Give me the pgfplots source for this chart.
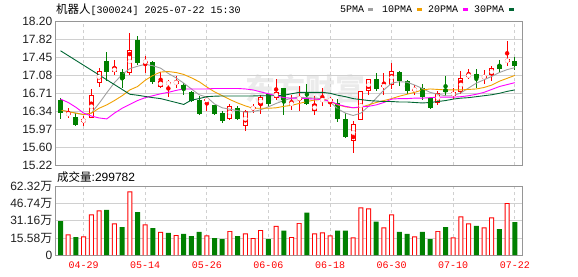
\documentclass[border=0pt]{standalone}
\usepackage{pgfplots}
\pgfplotsset{compat=1.18}
\usepackage{pgfplotstable}
\usepackage{fontspec}
\setmainfont{Liberation Sans}
\newfontfamily\cjk{Noto Sans CJK SC}
\newfontfamily\mono{Liberation Mono}

\definecolor{kred}{RGB}{255,0,0}
\definecolor{kgreen}{RGB}{0,128,0}
\definecolor{maA}{RGB}{160,160,160}
\definecolor{maB}{RGB}{240,160,0}
\definecolor{maC}{RGB}{255,0,255}
\definecolor{maD}{RGB}{0,102,51}
\definecolor{gridc}{RGB}{208,208,208}
\definecolor{framec}{RGB}{150,150,150}

% up candles (close > open): i O H L C
\pgfplotstableread{
i O H L C
1 16.26 16.41 16.20 16.30
3 16.11 16.25 16.03 16.18
4 16.20 16.80 16.19 16.67
5 16.92 17.23 16.85 17.18
7 17.15 17.39 17.08 17.245
9 17.13 17.95 17.095 17.61
11 17.35 17.49 17.14 17.38
13 16.85 17.16 16.82 16.96
14 16.90 16.99 16.63 16.94
15 16.90 17.06 16.82 16.96
19 16.56 16.65 16.35 16.58
22 16.18 16.48 16.16 16.44
24 16.03 16.37 15.93 16.34
25 16.39 16.49 16.305 16.42
26 16.46 16.68 16.29 16.63
28 16.61 17.00 16.58 16.74
30 16.46 16.68 16.37 16.525
31 16.58 16.855 16.34 16.63
33 16.34 16.65 16.27 16.49
34 16.55 16.82 16.44 16.59
35 16.55 16.63 16.42 16.59
38 15.72 16.13 15.48 16.08
39 16.155 16.76 16.15 16.75
40 16.765 17.01 16.68 17.005
42 16.85 17.14 16.68 16.87
43 16.89 17.335 16.80 17.18
46 16.77 16.89 16.68 16.80
49 16.51 16.75 16.46 16.72
51 16.66 16.81 16.59 16.73
52 16.74 17.18 16.70 17.03
53 17.04 17.21 17.005 17.11
55 17.04 17.20 16.90 17.06
56 17.08 17.28 16.96 17.23
58 17.35 17.795 17.28 17.42
}\upK

% down candles (close < open)
\pgfplotstableread{
i O H L C
0 16.58 16.61 16.18 16.31
2 16.22 16.30 16.04 16.06
6 17.37 17.575 16.96 17.16
8 17.16 17.21 16.83 17.005
10 17.81 17.89 17.29 17.34
12 17.36 17.37 16.91 16.94
16 16.89 16.92 16.68 16.80
17 16.74 16.75 16.52 16.545
18 16.58 16.66 16.27 16.28
20 16.46 16.47 16.26 16.28
21 16.305 16.35 16.09 16.13
23 16.41 16.44 16.155 16.17
27 16.70 16.70 16.42 16.49
29 16.81 16.81 16.27 16.58
32 16.61 16.90 16.47 16.49
36 16.51 16.59 16.11 16.17
37 16.17 16.305 15.79 15.81
41 17.005 17.14 16.765 16.80
44 17.15 17.18 16.87 16.96
45 16.96 16.99 16.70 16.765
47 16.82 16.90 16.58 16.63
48 16.61 16.61 16.39 16.41
50 16.80 17.06 16.65 16.74
54 17.11 17.21 16.81 17.03
57 17.30 17.40 17.16 17.22
59 17.38 17.46 17.20 17.27
}\downK

% moving averages
\pgfplotstableread{
i m5 m10 m20 m30
0 16.37 16.36 16.59 17.59
1 16.33 16.33 16.52 17.49
2 16.30 16.30 16.42 17.39
3 16.27 16.27 16.30 17.29
4 16.30 16.30 16.24 17.19
5 16.50 16.40 16.20 17.09
6 16.72 16.47 16.18 16.99
7 16.93 16.56 16.30 16.89
8 17.10 16.66 16.40 16.79
9 17.22 16.78 16.48 16.69
10 17.27 16.85 16.56 16.67
11 17.31 16.98 16.62 16.645
12 17.28 17.08 16.66 16.62
13 17.23 17.15 16.70 16.60
14 17.12 17.16 16.73 16.56
15 17.03 17.14 16.77 16.52
16 16.92 17.10 16.80 16.48
17 16.80 17.03 16.80 16.57
18 16.68 16.95 16.80 16.60
19 16.63 16.84 16.80 16.64
20 16.49 16.74 16.81 16.65
21 16.41 16.66 16.81 16.655
22 16.38 16.58 16.81 16.655
23 16.35 16.51 16.81 16.655
24 16.32 16.45 16.80 16.655
25 16.33 16.40 16.78 16.655
26 16.37 16.40 16.74 16.66
27 16.43 16.40 16.70 16.66
28 16.50 16.41 16.66 16.66
29 16.56 16.44 16.62 16.67
30 16.61 16.46 16.61 16.70
31 16.63 16.50 16.61 16.73
32 16.62 16.54 16.60 16.73
33 16.61 16.57 16.59 16.73
34 16.60 16.59 16.58 16.73
35 16.53 16.55 16.55 16.71
36 16.39 16.47 16.48 16.67
37 16.30 16.43 16.44 16.64
38 16.25 16.41 16.41 16.60
39 16.30 16.42 16.43 16.58
40 16.44 16.47 16.44 16.56
41 16.61 16.52 16.47 16.55
42 16.78 16.56 16.52 16.54
43 16.92 16.60 16.59 16.54
44 16.95 16.65 16.60 16.53
45 16.94 16.69 16.60 16.53
46 16.88 16.73 16.61 16.52
47 16.81 16.78 16.61 16.51
48 16.73 16.80 16.62 16.52
49 16.69 16.79 16.63 16.54
50 16.66 16.78 16.63 16.56
51 16.66 16.78 16.63 16.59
52 16.72 16.78 16.64 16.61
53 16.82 16.79 16.66 16.62
54 16.92 16.80 16.69 16.64
55 16.99 16.83 16.73 16.66
56 17.06 16.88 16.79 16.68
57 17.14 16.96 16.85 16.71
58 17.20 17.02 16.89 16.75
59 17.24 17.08 16.93 16.78
}\maT

% volume (wan shares), red hollow bars
\pgfplotstableread{
i V
1 18.9
3 17.0
4 37.1
5 40.8
7 28.9
9 58.1
11 28.0
13 21.0
15 18.2
19 18.0
22 21.9
24 19.8
25 15.5
26 22.8
28 26.5
30 16.4
31 29.2
33 19.8
34 20.7
35 18.0
38 16.1
39 43.5
40 42.6
42 25.2
43 37.1
46 17.1
49 21.9
51 16.1
52 35.3
53 28.9
55 25.2
56 34.4
58 47.4
}\upV

% volume, green filled bars
\pgfplotstableread{
i V
0 31.0
2 16.4
6 41.1
8 25.5
10 39.2
12 24.6
14 20.1
16 19.2
17 17.3
18 21.0
20 15.5
21 14.6
23 17.3
27 14.6
29 22.2
32 38.6
36 22.2
37 22.2
41 30.4
44 21.0
45 19.2
47 21.0
48 14.6
50 25.5
54 26.5
57 23.7
59 29.98
}\downV

\pgfplotsset{
  kstyle/.style={
    scale only axis, anchor=south west,
    width=467.3pt, xmin=-0.72, xmax=59.97,
    axis line style={draw=framec, line width=0.8pt},
    major tick length=0pt,
    xtick={3,11,19,27,35,43,51,59},
    xmajorgrids, ymajorgrids,
    x grid style={draw=gridc, dash pattern=on 3pt off 3pt, line width=0.8pt},
    y grid style={draw=gridc, line width=0.8pt},
    yticklabel style={font=\fontsize{12}{12}\selectfont, text=black!88, inner sep=0pt, xshift=-2.5pt},
  },
  ebar/.style n args={2}{only marks, mark=none, color=#1,
    error bars/.cd, y dir=both, y explicit, error mark=none,
    error bar style={line width=#2, color=#1, solid}},
}

\begin{document}
\begin{tikzpicture}
\useasboundingbox (0pt,0pt) rectangle (578pt,276pt);

% watermark
\node[text=black!8, inner sep=0pt] at (305pt,187pt) {\cjk\bfseries\fontsize{30}{30}\selectfont 东方财富};

% ---------- price panel ----------
\begin{axis}[kstyle,
  at={(55pt,110.7pt)}, height=144pt,
  ymin=15.22, ymax=18.20,
  xticklabels={},
  ytick={15.22,15.5925,15.965,16.3375,16.71,17.0825,17.455,17.8275,18.20},
  yticklabels={15.22,15.60,15.97,16.34,16.71,17.08,17.45,17.82,18.20},
]
% down candles: wicks and bodies
\addplot[ebar={kgreen}{1pt}]
  table[x=i, y expr={(\thisrow{H}+\thisrow{L})/2}, y error expr={(\thisrow{H}-\thisrow{L})/2}] {\downK};
\addplot[ebar={kgreen}{5pt}]
  table[x=i, y expr={(\thisrow{O}+\thisrow{C})/2}, y error expr={(\thisrow{O}-\thisrow{C})/2}] {\downK};
% up candles: wicks, red bodies, white interior
\addplot[ebar={kred}{1pt}]
  table[x=i, y expr={(\thisrow{H}+\thisrow{L})/2}, y error expr={(\thisrow{H}-\thisrow{L})/2}] {\upK};
\addplot[ebar={kred}{5pt}]
  table[x=i, y expr={(\thisrow{O}+\thisrow{C})/2}, y error expr={max((\thisrow{C}-\thisrow{O})/2,0.012)}] {\upK};
\addplot[ebar={white}{3pt}]
  table[x=i, y expr={(\thisrow{O}+\thisrow{C})/2}, y error expr={max((\thisrow{C}-\thisrow{O})/2-0.0207,0)}] {\upK};
% moving averages
\addplot[color=maA, line width=0.9pt, mark=none] table[x=i, y=m5] {\maT};
\addplot[color=maB, line width=0.9pt, mark=none] table[x=i, y=m10] {\maT};
\addplot[color=maC, line width=0.9pt, mark=none] table[x=i, y=m20] {\maT};
\addplot[color=maD, line width=0.9pt, mark=none] table[x=i, y=m30] {\maT};
\end{axis}

% ---------- volume panel ----------
\begin{axis}[kstyle,
  at={(55pt,21pt)}, height=68.3pt,
  ymin=0, ymax=62.32,
  ytick={0,15.58,31.16,46.74,62.32},
  yticklabels={0,15.58{\cjk 万},31.16{\cjk 万},46.74{\cjk 万},62.32{\cjk 万}},
  xticklabels={04-29,05-14,05-26,06-06,06-18,06-30,07-10,07-22},
  xticklabel style={font=\mono\fontsize{10}{10}\selectfont, text=kred, anchor=north, inner sep=0pt, yshift=-6.5pt},
]
\addplot[ybar, bar width=5pt, bar shift=0pt, color=kgreen, fill=kgreen, draw=none] table[x=i, y=V] {\downV};
\addplot[ybar, bar width=5pt, bar shift=0pt, color=kred, fill=kred, draw=none] table[x=i, y=V] {\upV};
\addplot[ybar, bar width=3pt, bar shift=0pt, color=white, fill=white, draw=none] table[x=i, y expr={\thisrow{V}-0.91}] {\upV};
\end{axis}

% ---------- texts ----------
\node[anchor=west, inner sep=0pt] at (56pt,266.7pt)
  {{\cjk\fontsize{11.5}{12}\selectfont 机器人}{\mono\fontsize{10}{12}\selectfont [300024] 2025-07-22 15:30}};
\node[anchor=west, inner sep=0pt] at (57pt,99.3pt)
  {{\cjk\fontsize{11.5}{12}\selectfont 成交量}{\fontsize{12}{12}\selectfont :299782}};

\node[anchor=west, inner sep=0pt] at (340pt,266.7pt) {\mono\fontsize{10}{12}\selectfont 5PMA};
\fill[maA] (368pt,265.3pt) rectangle (373pt,268.3pt);
\node[anchor=west, inner sep=0pt] at (382pt,266.7pt) {\mono\fontsize{10}{12}\selectfont 10PMA};
\fill[maB] (417pt,265.3pt) rectangle (422pt,268.3pt);
\node[anchor=west, inner sep=0pt] at (428pt,266.7pt) {\mono\fontsize{10}{12}\selectfont 20PMA};
\fill[maC] (463pt,265.3pt) rectangle (468pt,268.3pt);
\node[anchor=west, inner sep=0pt] at (474pt,266.7pt) {\mono\fontsize{10}{12}\selectfont 30PMA};
\fill[maD] (509pt,265.3pt) rectangle (514pt,268.3pt);
\end{tikzpicture}
\end{document}
